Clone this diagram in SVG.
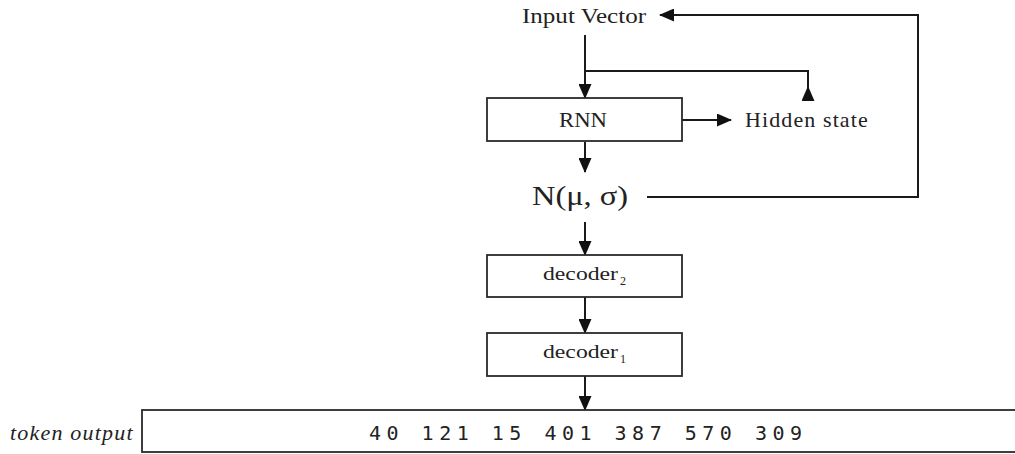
<svg xmlns="http://www.w3.org/2000/svg" width="1015" height="454" viewBox="0 0 1015 454">
  <style>
    .box { fill: #ffffff; stroke: #2a2a2a; stroke-width: 1.8; }
    .wire { fill: none; stroke: #1a1a1a; stroke-width: 2; }
    .lbl { font-family: "Liberation Serif", "Times New Roman", serif; font-size: 21px; fill: #222222; }
    .wide { font-size: 22px; letter-spacing: 1.1px; }
    .small { font-size: 18px; }
    .math { font-family: "Liberation Serif", "Times New Roman", serif; font-size: 27px; fill: #222222; }
    .sub { font-size: 12px; }
    .tok { font-family: "DejaVu Sans Mono", "Liberation Mono", monospace; font-size: 20px; letter-spacing: 5.5px; fill: #222222; }
    .side { font-family: "Liberation Serif", "Times New Roman", serif; font-style: italic; font-size: 22px; letter-spacing: 1.2px; fill: #222222; }
  </style>
  <defs>
    <marker id="arrow" viewBox="0 0 15 13" refX="14" refY="6.5" markerWidth="15" markerHeight="13" markerUnits="userSpaceOnUse" orient="auto">
      <path d="M0,0 L15,6.5 L0,13 Z" fill="#111111"/>
    </marker>
  </defs>

  <rect width="1015" height="454" fill="#ffffff"/>

  <!-- connectors -->
  <g id="connectors">
    <path class="wire" d="M585,35 V98" marker-end="url(#arrow)"/>
    <path class="wire" d="M585,71 H808 V99"/>
    <path class="wire" d="M808,99 V87" marker-end="url(#arrow)"/>
    <path class="wire" d="M682,120 H731" marker-end="url(#arrow)"/>
    <path class="wire" d="M585,142 V172" marker-end="url(#arrow)"/>
    <path class="wire" d="M647,197 H918 V15 H660" marker-end="url(#arrow)"/>
    <path class="wire" d="M585,222 V255" marker-end="url(#arrow)"/>
    <path class="wire" d="M585,297 V333" marker-end="url(#arrow)"/>
    <path class="wire" d="M585,376 V410" marker-end="url(#arrow)"/>
  </g>

  <g id="input-vector">
    <text class="lbl" x="522" y="23" textLength="124" lengthAdjust="spacingAndGlyphs">Input Vector</text>
  </g>

  <g id="rnn">
    <rect class="box" x="487" y="98" width="195" height="43"/>
    <text class="lbl" x="559" y="127" textLength="48" lengthAdjust="spacingAndGlyphs">RNN</text>
  </g>

  <g id="hidden-state">
    <text class="lbl wide" x="745" y="127">Hidden state</text>
  </g>

  <g id="distribution">
    <text class="math" x="532" y="205" textLength="96" lengthAdjust="spacingAndGlyphs">N(μ, σ)</text>
  </g>

  <g id="decoder2">
    <rect class="box" x="487" y="255" width="195" height="42"/>
    <text class="lbl small" x="543" y="280"><tspan textLength="75" lengthAdjust="spacingAndGlyphs">decoder</tspan><tspan class="sub" dx="2" dy="5">2</tspan></text>
  </g>

  <g id="decoder1">
    <rect class="box" x="487" y="333" width="195" height="43"/>
    <text class="lbl small" x="543" y="358"><tspan textLength="75" lengthAdjust="spacingAndGlyphs">decoder</tspan><tspan class="sub" dx="2" dy="5">1</tspan></text>
  </g>

  <g id="token-output">
    <text class="side" x="10" y="440">token output</text>
    <rect class="box" x="142" y="410" width="900" height="42"/>
    <text class="tok" x="369" y="440">40 121 15 401 387 570 309</text>
  </g>
</svg>
